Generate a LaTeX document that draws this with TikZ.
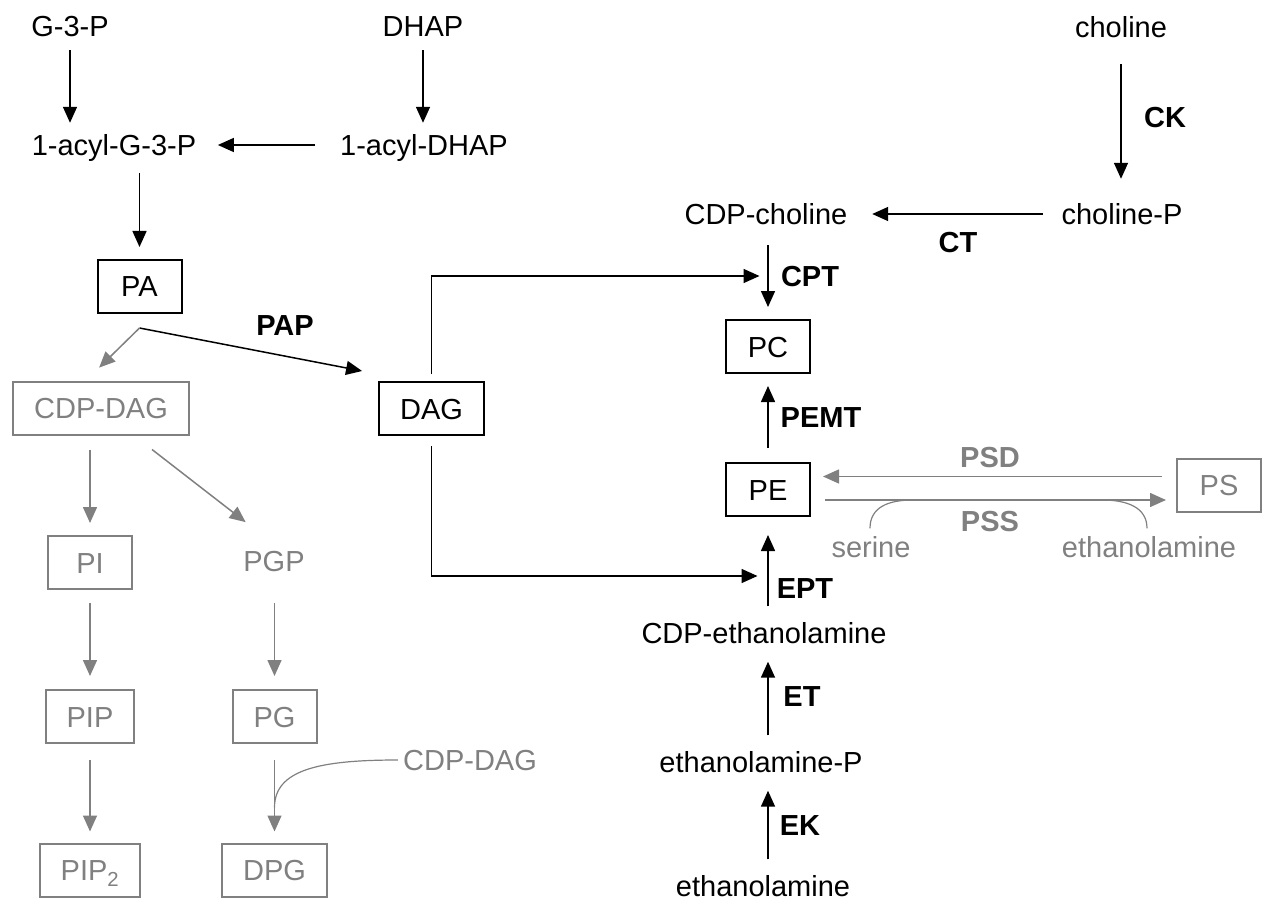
\documentclass[tikz,border=0pt]{standalone}
\usepackage{fontspec}
\setmainfont{Liberation Sans}
\usetikzlibrary{arrows.meta,calc}
\definecolor{lipBlack}{HTML}{000000}
\definecolor{lipGrey}{HTML}{808080}
\tikzset{
  mol/.style={inner sep=0pt, text height=21pt, text depth=0pt,
    font=\fontsize{29}{34}\selectfont, text=lipBlack},
  molGrey/.style={mol, text=lipGrey},
  molBox/.style={mol, draw=lipBlack, line width=2pt, minimum width=84pt,
    minimum height=53pt, inner xsep=21pt},
  molBoxGrey/.style={molBox, draw=lipGrey, text=lipGrey},
  enz/.style={mol, font=\fontsize{29}{34}\selectfont\bfseries},
  enzGrey/.style={enz, text=lipGrey},
  rxn/.style={draw=lipBlack, line width=1.5pt, -{Triangle[length=16pt,width=14pt]}},
  rxnGrey/.style={rxn, draw=lipGrey},
  side/.style={draw=lipGrey, line width=1.2pt},
}
\begin{document}
\begin{tikzpicture}[x=1pt, y=-1pt]
\useasboundingbox (0,0) rectangle (1263,901);

% --- G-3-P / DHAP ROUTE TO PA ---
\node[mol] (g3p)   at (70,26)   {G-3-P};
\node[mol] (dhap)  at (423,26)  {DHAP};
\node[mol] (acylG) at (114,145) {1-acyl-G-3-P};
\node[mol] (acylD) at (424,145) {1-acyl-DHAP};
\node[molBox] (pa)  at (139.5,286.5) {PA};
\node[molBox] (dag) at (431.5,408.5) {DAG};
\node[enz] (pap) at (285,325) {PAP};

\draw[rxn, shorten <=13.5pt, shorten >=11.5pt] (g3p.south) -- (g3p.south |- acylG.north);
\draw[rxn, shorten <=13.5pt, shorten >=11.5pt] (dhap.south) -- (dhap.south |- acylD.north);
\draw[rxn, shorten <=25pt, shorten >=21.5pt] (acylD.west) -- (acylG.east);
\draw[rxn, shorten <=17.5pt, shorten >=12pt] (acylG.south -| pa.north) -- (pa.north);

% --- CDP-DAG BRANCH (grey) ---
\node[molBoxGrey] (cdpdag) at (101,408)     {CDP-DAG};
\node[molBoxGrey] (pi)     at (90,562.5)    {PI};
\node[molGrey]    (pgp)    at (274,561)     {PGP};
\node[molBoxGrey] (pip)    at (90,716.5)    {PIP};
\node[molBoxGrey] (pg)     at (274.5,716.5) {PG};
\node[molBoxGrey] (pip2)   at (90,870)      {PIP\textsubscript{2}};
\node[molBoxGrey] (dpg)    at (274.5,870)   {DPG};
\node[molGrey]    (cdpdagB) at (470,760)    {CDP-DAG};

% --- PA SPLITS TO DAG AND CDP-DAG ---
\coordinate (paSplit) at ([yshift=-14pt]pa.south);
\draw[rxn] (paSplit) -- ([xshift=-16pt,yshift=10pt]dag.north west);
\draw[rxnGrey, shorten >=18.4pt] (paSplit) -- ([xshift=-15pt]cdpdag.north);

\draw[rxnGrey, shorten <=14pt, shorten >=12pt] (cdpdag.south -| pi.north) -- (pi.north);
\draw[rxnGrey, shorten >=46pt] ([xshift=51pt,yshift=-14pt]cdpdag.south) -- ([xshift=8pt]pgp.north);
\draw[rxnGrey, shorten <=13pt, shorten >=13pt] (pi.south) -- (pip.north);
\draw[rxnGrey, shorten <=31.5pt, shorten >=13pt] (pgp.south -| pg.north) -- (pg.north);
\draw[rxnGrey, shorten <=16pt, shorten >=11pt] (pip.south) -- (pip2.north);
\draw[rxnGrey, shorten <=16pt, shorten >=11pt] (pg.south) -- (dpg.north);
\draw[side] ([xshift=-5pt]cdpdagB.west) .. controls +(-78,0) and +(0,-38) .. ([yshift=35pt]dpg.north);

% --- CDP-CHOLINE PATHWAY ---
\node[mol] (cho)    at (1121,27)  {choline};
\node[mol] (choP)   at (1122,214) {choline-P};
\node[mol] (cdpCho) at (766,214)  {CDP-choline};
\node[molBox] (pc)  at (768,346.5) {PC};
\node[enz] (ck)   at (1165,117) {CK};
\node[enz] (ct)   at (958,242)  {CT};
\node[enz] (cpt)  at (810,276)  {CPT};
\node[enz] (pemt) at (821,417)  {PEMT};

\draw[rxn, shorten <=26.5pt, shorten >=24.5pt] (cho.south) -- (cho.south |- choP.north);
\draw[rxn, shorten <=18.6pt, shorten >=24.6pt] (choP.west) -- (cdpCho.east);
\draw[rxn, shorten <=20.5pt, shorten >=12pt] (cdpCho.south -| pc.north) -- (pc.north);

% --- CDP-ETHANOLAMINE PATHWAY ---
\node[molBox] (pe)   at (768,489.5) {PE};
\node[mol] (cdpEth)  at (764,633)   {CDP-ethanolamine};
\node[mol] (ethP)    at (761,762)   {ethanolamine-P};
\node[mol] (eth)     at (763,886)   {ethanolamine};
\node[enz] (ept) at (805,588) {EPT};
\node[enz] (et)  at (802,696) {ET};
\node[enz] (ek)  at (800,825) {EK};

\foreach \a/\b in {eth/ethP, ethP/cdpEth, cdpEth/pe} {
  \draw[rxn, shorten <=16pt, shorten >=18pt] (\a.north -| pe.south) -- (\b.south -| pe.south);
}
\draw[rxn, shorten <=14pt, shorten >=12pt] (pe.north) -- (pc.south);

% --- DAG FEEDS CPT AND EPT ---
\coordinate (cptIn) at (pc.north |- cpt.west);
\coordinate (eptIn) at ([yshift=12pt]pe.south |- ept.west);
\draw[rxn, shorten <=7pt, shorten >=8.5pt] (dag.north) |- (cptIn);
\draw[rxn, shorten <=10pt, shorten >=10.5pt] (dag.south) |- (eptIn);

% --- PS EXCHANGE (grey) ---
\node[molBoxGrey] (ps) at (1219,485) {PS};
\node[molGrey] (ser)  at (871,547)  {serine};
\node[molGrey] (ethG) at (1149,547) {ethanolamine};
\node[enzGrey] (psd) at (990,457) {PSD};
\node[enzGrey] (pss) at (990,521) {PSS};

\coordinate (pssLine) at ([yshift=-10.5pt]pe.east);
\draw[rxnGrey, shorten <=14pt, shorten >=12pt] ([yshift=13pt]pe.east -| ps.west) -- ([yshift=13pt]pe.east);
\draw[rxnGrey, shorten <=14pt, shorten >=10pt] (pssLine) -- (pssLine -| ps.west);
\draw[side] ([xshift=-1pt,yshift=8pt]ser.north) .. controls +(0,-21) and +(-25,0) .. ([xshift=42pt]ser.north |- pssLine);
\draw[side] ([xshift=-2pt,yshift=8pt]ethG.north) .. controls +(0,-21) and +(25,0) .. ([xshift=-47pt]ethG.north |- pssLine);

\end{tikzpicture}
\end{document}
